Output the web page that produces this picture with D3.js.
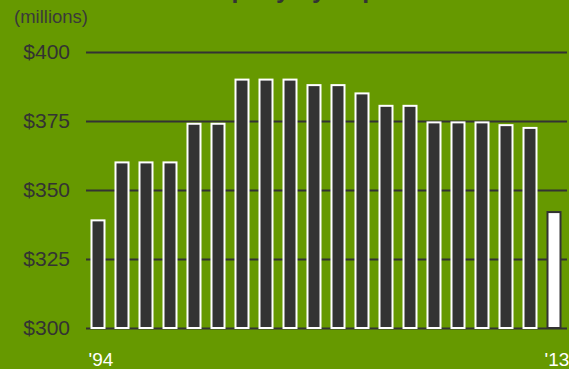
<!DOCTYPE html>
<html>
<head>
<meta charset="utf-8">
<script src="https://cdn.jsdelivr.net/npm/d3@7"></script>
<style>
  html, body { margin: 0; padding: 0; background: #669900; }
  svg { display: block; font-family: "Liberation Sans", Arial, sans-serif; }
</style>
</head>
<body>
<svg id="chart" width="569" height="369"></svg>
<script>
// Yearly totals, in millions of dollars
const years = ["'94","'95","'96","'97","'98","'99","'00","'01","'02","'03",
               "'04","'05","'06","'07","'08","'09","'10","'11","'12","'13"];
const values = [339, 360, 360, 360, 374, 374, 390, 390, 390, 388,
                388, 385, 380.5, 380.5, 374.5, 374.5, 374.5, 373.5, 372.5, 342];
const yTicks = [300, 325, 350, 375, 400];
const labelledYears = ["'94", "'13"];
const highlightYear = "'13";

const svg = d3.select("#chart");

const x = d3.scaleBand()
  .domain(years)
  .range([86, 566])
  .paddingInner(0.375)
  .paddingOuter(0.1875);

const y = d3.scaleLinear()
  .domain([300, 400])
  .range([328, 52]);

// Title (runs off the top edge)
svg.append("text")
  .attr("x", 176)
  .attr("y", -2)
  .attr("font-size", 25)
  .attr("font-weight", "bold")
  .attr("fill", "#333")
  .text("Company by dept.");

svg.append("text")
  .attr("x", 14)
  .attr("y", 23)
  .attr("font-size", 18.5)
  .attr("fill", "#3a3a3a")
  .text("(millions)");

// Horizontal gridlines with dollar labels
const yAxis = d3.axisLeft(y)
  .tickValues(yTicks)
  .tickSize(-(567 - 86))
  .tickPadding(16)
  .tickFormat(d => "$" + d);

const gy = svg.append("g")
  .attr("transform", "translate(86,0)")
  .call(yAxis);
gy.select(".domain").remove();
gy.selectAll(".tick line")
  .attr("stroke", "#333")
  .attr("stroke-width", 2);
gy.selectAll(".tick text")
  .attr("font-size", 21)
  .attr("fill", "#333")
  .attr("font-family", "Liberation Sans, Arial, sans-serif");

// Bars
svg.append("g")
  .selectAll("rect")
  .data(years.map((yr, i) => ({ yr, v: values[i] })))
  .join("rect")
  .attr("x", d => x(d.yr) + 1)
  .attr("width", x.bandwidth() - 2)
  .attr("y", d => y(d.v))
  .attr("height", d => y(300) - y(d.v))
  .attr("fill", d => d.yr === highlightYear ? "#fff" : "#333")
  .attr("stroke", d => d.yr === highlightYear ? "#333" : "#fff")
  .attr("stroke-width", 2);

// Year labels at each end
svg.append("g")
  .selectAll("text")
  .data(labelledYears)
  .join("text")
  .attr("x", d => x(d) - 2)
  .attr("y", 366)
  .attr("font-size", 19)
  .attr("fill", "#fff")
  .text(d => d);
</script>
</body>
</html>
